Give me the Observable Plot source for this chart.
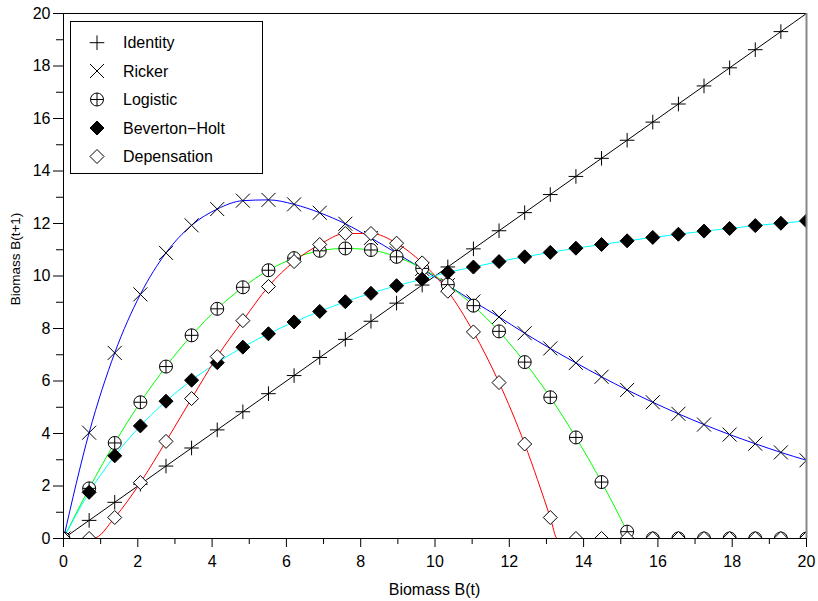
<!DOCTYPE html>
<html><head><meta charset="utf-8">
<script src="https://cdn.jsdelivr.net/npm/d3@7"></script>
<script src="https://cdn.jsdelivr.net/npm/@observablehq/plot@0.6"></script>
<style>
body{margin:0;background:#fff;}
#chart{position:relative;width:818px;height:601px;}
#chart svg{font-family:"Liberation Sans",Arial,Helvetica,sans-serif;color:#000;}
</style></head><body><div id="chart"></div>
<script>
// Biomass B(t) at which the markers sit
const biomass = [0, 0.690, 1.379, 2.069, 2.759, 3.448, 4.138, 4.828, 5.517, 6.207, 6.897, 7.586, 8.276, 8.966, 9.655, 10.345, 11.034, 11.724, 12.414, 13.103, 13.793, 14.483, 15.172, 15.862, 16.552, 17.241, 17.931, 18.621, 19.310, 20];
// Biomass B(t+1) per model
const identity = [0, 0.690, 1.379, 2.069, 2.759, 3.448, 4.138, 4.828, 5.517, 6.207, 6.897, 7.586, 8.276, 8.966, 9.655, 10.345, 11.034, 11.724, 12.414, 13.103, 13.793, 14.483, 15.172, 15.862, 16.552, 17.241, 17.931, 18.621, 19.310, 20];
const ricker = [0, 4.03, 7.07, 9.30, 10.88, 11.93, 12.55, 12.87, 12.90, 12.73, 12.41, 11.99, 11.45, 10.87, 10.27, 9.65, 9.03, 8.44, 7.82, 7.24, 6.69, 6.16, 5.66, 5.19, 4.75, 4.34, 3.96, 3.61, 3.28, 2.98];
const logistic = [0, 1.91, 3.64, 5.19, 6.55, 7.74, 8.75, 9.57, 10.22, 10.68, 10.96, 11.05, 10.99, 10.73, 10.29, 9.67, 8.87, 7.89, 6.72, 5.38, 3.85, 2.15, 0.26, 0, 0, 0, 0, 0, 0, 0];
const bevertonHolt = [0, 1.76, 3.15, 4.29, 5.23, 6.03, 6.70, 7.29, 7.80, 8.25, 8.65, 9.02, 9.34, 9.63, 9.88, 10.14, 10.34, 10.55, 10.73, 10.90, 11.06, 11.20, 11.34, 11.47, 11.59, 11.71, 11.81, 11.92, 12.01, 12.10];
const depensation = [0, 0, 0.80, 2.13, 3.70, 5.33, 6.93, 8.30, 9.60, 10.55, 11.20, 11.62, 11.62, 11.25, 10.50, 9.42, 7.87, 5.94, 3.60, 0.80, 0, 0, 0, 0, 0, 0, 0, 0, 0, 0];
// where curves leave / reach zero
const depensationStart = 0.80;
const depensationRoot = 13.29;
const logisticRoot = 15.26;

const seriesNames = ["Identity", "Ricker", "Logistic", "Beverton\u2212Holt", "Depensation"];
const lineColors = ["#000000", "#0000ff", "#00ff00", "#00ffff", "#ff0000"];
const xTicks = [0, 2, 4, 6, 8, 10, 12, 14, 16, 18, 20];
const xMinorTicks = [1, 3, 5, 7, 9, 11, 13, 15, 17, 19];
const yTicks = [0, 2, 4, 6, 8, 10, 12, 14, 16, 18, 20];
const yMinorTicks = [1, 3, 5, 7, 9, 11, 13, 15, 17, 19];

// custom marker shapes
const kOf = size => Math.sqrt(size / Math.PI);
const plusSym = {draw(c, s) { const k = kOf(s); c.moveTo(-k, 0); c.lineTo(k, 0); c.moveTo(0, -k); c.lineTo(0, k); }};
const timesSym = {draw(c, s) { const k = kOf(s); c.moveTo(-k, -k); c.lineTo(k, k); c.moveTo(-k, k); c.lineTo(k, -k); }};
const oplusSym = {draw(c, s) { const k = kOf(s); c.moveTo(k, 0); c.arc(0, 0, k, 0, 2 * Math.PI); c.closePath(); c.moveTo(-k, 0); c.lineTo(k, 0); c.moveTo(0, -k); c.lineTo(0, k); }};
const diamondSym = {draw(c, s) { const k = kOf(s); c.moveTo(0, -k); c.lineTo(k, 0); c.lineTo(0, k); c.lineTo(-k, 0); c.closePath(); }};
const markerStyles = [
  {symbol: plusSym, r: 7.3, fill: "none", stroke: "#000"},
  {symbol: timesSym, r: 7, fill: "none", stroke: "#000"},
  {symbol: oplusSym, r: 6.5, fill: "#fff", stroke: "#000"},
  {symbol: diamondSym, r: 7, fill: "#000", stroke: "#000"},
  {symbol: diamondSym, r: 7, fill: "#fff", stroke: "#000"}
];

const allSeries = [identity, ricker, logistic, bevertonHolt, depensation];
const pts = v => biomass.map((b, i) => ({b, v: v[i]}));

// line data
const lineData = [
  pts(identity),
  pts(ricker),
  [...pts(logistic).filter(d => d.v > 0 || d.b === 0), {b: logisticRoot, v: 0}, {b: 20, v: 0}],
  pts(bevertonHolt),
  [{b: 0, v: 0}, {b: depensationStart, v: 0}, ...pts(depensation).filter(d => d.v > 0), {b: depensationRoot, v: 0}, {b: 20, v: 0}]
];

const marks = [];
lineData.forEach((ld, i) => {
  marks.push(Plot.line(ld, {x: "b", y: "v", stroke: lineColors[i], strokeWidth: 1, curve: "monotone-x", clip: true}));
});
allSeries.forEach((s, i) => {
  const m = markerStyles[i];
  marks.push(Plot.dot(pts(s), {x: "b", y: "v", symbol: m.symbol, r: m.r, fill: m.fill, stroke: m.stroke, strokeWidth: 1, clip: true}));
});

const plot = Plot.plot({
  width: 818,
  height: 601,
  marginLeft: 63,
  marginRight: 12,
  marginTop: 13,
  marginBottom: 63,
  style: {fontFamily: "'Liberation Sans', Arial, Helvetica, sans-serif", color: "#000", background: "#fff"},
  x: {domain: [0, 20]},
  y: {domain: [0, 20]},
  marks: [
    ...marks,
    Plot.ruleY([20], {stroke: "#000", strokeWidth: 1}),
    Plot.ruleX([20], {stroke: "#888", strokeWidth: 2}),
    Plot.ruleY([0], {stroke: "#000", strokeWidth: 1}),
    Plot.ruleX([0], {stroke: "#000", strokeWidth: 1}),
    Plot.axisX(xTicks, {tickSize: 9, tickPadding: 8, fontSize: 16, label: null}),
    Plot.axisX(xMinorTicks, {tickSize: 6, text: null, label: null}),
    Plot.axisY(yTicks, {tickSize: 10, tickPadding: 3, fontSize: 16, label: null}),
    Plot.axisY(yMinorTicks, {tickSize: 7, text: null, label: null})
  ]
});
document.getElementById("chart").appendChild(plot);

const svg = d3.select(plot);
// axis titles
svg.append("text").attr("x", 434.5).attr("y", 595).attr("text-anchor", "middle")
  .attr("font-size", 16).attr("fill", "#000").text("Biomass B(t)");
svg.append("text").attr("transform", "translate(20,259) rotate(-90)").attr("text-anchor", "middle")
  .attr("font-size", 13.5).attr("fill", "#000").text("Biomass B(t+1)");

// legend
const lg = svg.append("g");
lg.append("rect").attr("x", 70.5).attr("y", 21.5).attr("width", 192).attr("height", 152)
  .attr("fill", "#fff").attr("stroke", "#000").attr("stroke-width", 1);
const rowY = [42.7, 71, 99.5, 128, 156.5];
seriesNames.forEach((name, i) => {
  const m = markerStyles[i];
  const p = d3.path();
  m.symbol.draw(p, m.r * m.r * Math.PI);
  lg.append("path").attr("d", p.toString()).attr("transform", `translate(97,${rowY[i]})`)
    .attr("fill", m.fill).attr("stroke", m.stroke).attr("stroke-width", 1);
  lg.append("text").attr("x", 123).attr("y", rowY[i]).attr("dy", "0.36em")
    .attr("text-anchor", "start").attr("font-size", 16).attr("fill", "#000").text(name);
});
</script>
</body></html>
